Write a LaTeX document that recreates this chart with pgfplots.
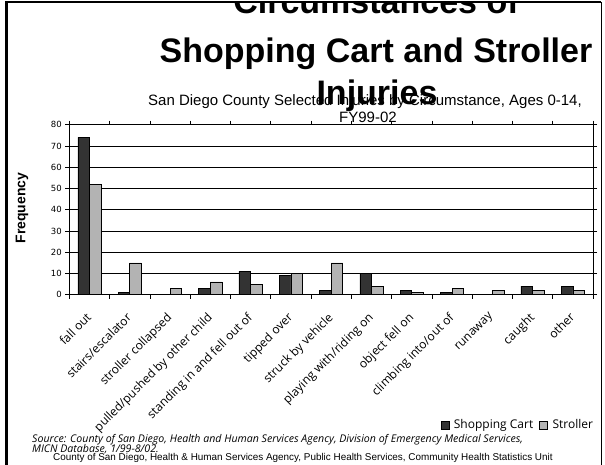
\documentclass[border=0pt]{standalone}
\usepackage{fontspec}
\setmainfont{Liberation Sans}
\newfontfamily\comic{Open Sans}
\newfontfamily\verd{DejaVu Sans}
\usepackage{pgfplots}
\pgfplotsset{compat=1.18}
\definecolor{scdark}{HTML}{333333}
\definecolor{stlight}{HTML}{B3B3B3}
\begin{document}
\begin{tikzpicture}[x=1pt,y=1pt]
\path[use as bounding box] (0,0) rectangle (605,465);
\fill[white] (0,0) rectangle (605,465);
\begin{scope}
\clip (0,0) rectangle (605,463);
\node[font=\fontsize{34}{34}\selectfont\bfseries, anchor=base, inner sep=0] at (376,451) {Circumstances of};
\node[font=\fontsize{34}{34}\selectfont\bfseries, anchor=base, inner sep=0] at (376,402) {Shopping Cart and Stroller};
\end{scope}
\node[font=\fontsize{15}{15}\selectfont, anchor=base, inner sep=0] at (365,359.5) {San Diego County Selected Injuries by Circumstance, Ages 0-14,};
\node[font=\fontsize{15}{15}\selectfont, anchor=base, inner sep=0] at (368,342.5) {FY99-02};
\node[font=\fontsize{34}{34}\selectfont\bfseries, anchor=base, inner sep=0] at (377,360) {Injuries};
% frame
\draw[line width=3pt] (6,0) -- (6,463.5);
\draw[line width=1.2pt] (6,463) -- (601,463);
\draw[line width=1pt] (601,463) -- (601,0);
\begin{axis}[at={(69.3pt,170.3pt)}, anchor=south west, scale only axis,
  width=523.7pt, height=170pt,
  axis background/.style={fill=white},
  ybar=0pt, bar width=11.6pt,
  xmin=-0.5, xmax=12.5, ymin=0, ymax=80,
  ytick={0,10,...,80},
  ymajorgrids, grid style={black, line width=0.7pt},
  axis line style={black, line width=0.8pt},
  tick align=outside, major tick length=4pt,
  tick style={black, line width=0.7pt},
  xtick={-0.5,0.5,...,12.5}, xticklabels={},
  extra x ticks={0,1,...,12},
  extra x tick style={major tick length=0pt, grid=none},
  extra x tick labels={fall out, stairs/escalator, stroller collapsed, pulled/pushed by other child, standing in and fell out of, tipped over, struck by vehicle, playing with/riding on, object fell on, climbing into/out of, runaway, caught, other},
  xticklabel style={xshift=-4pt, yshift=-17pt, rotate=45, anchor=north east, font=\comic\fontsize{12}{12}\selectfont, inner sep=0pt},
  yticklabel style={font=\verd\fontsize{8.5}{8.5}\selectfont},
  /pgf/number format/assume math mode=true,
  legend style={at={(1.0042,-0.766)}, anchor=east, draw=none, fill=none,
    legend columns=2, font=\comic\fontsize{12}{12}\selectfont, inner sep=0pt,
    /tikz/every even column/.append style={column sep=4pt}},
  legend image code/.code={\draw[#1,draw=black,line width=0.6pt] (0pt,-4pt) rectangle (8pt,4pt); \path[draw=none,fill=none] (8pt,0pt) rectangle (11pt,0pt);},
]
\addplot[fill=scdark, draw=black, line width=0.6pt] coordinates {(0,74) (1,1) (2,0) (3,3) (4,11) (5,9) (6,2) (7,10) (8,2) (9,1) (10,0) (11,4) (12,4)};
\addplot[fill=stlight, draw=black, line width=0.6pt] coordinates {(0,52) (1,15) (2,3) (3,6) (4,5) (5,10) (6,15) (7,4) (8,1) (9,3) (10,2) (11,2) (12,2)};
\legend{Shopping Cart, Stroller}
\end{axis}
\node[font=\fontsize{14}{14}\selectfont\bfseries, rotate=90, inner sep=0] at (22,257) {Frequency};
\node[font=\comic\itshape\fontsize{10.6}{10.6}\selectfont, anchor=base west, inner sep=0] at (32,22) {Source: County of San Diego, Health and Human Services Agency, Division of Emergency Medical Services,};
\node[font=\comic\itshape\fontsize{10.6}{10.6}\selectfont, anchor=base west, inner sep=0] at (32,12) {MICN Database, 1/99-8/02.};
\node[font=\fontsize{9.9}{9.9}\selectfont, anchor=base west, inner sep=0] at (53,4.5) {County of San Diego, Health \& Human Services Agency, Public Health Services, Community Health Statistics Unit};
\end{tikzpicture}
\end{document}
